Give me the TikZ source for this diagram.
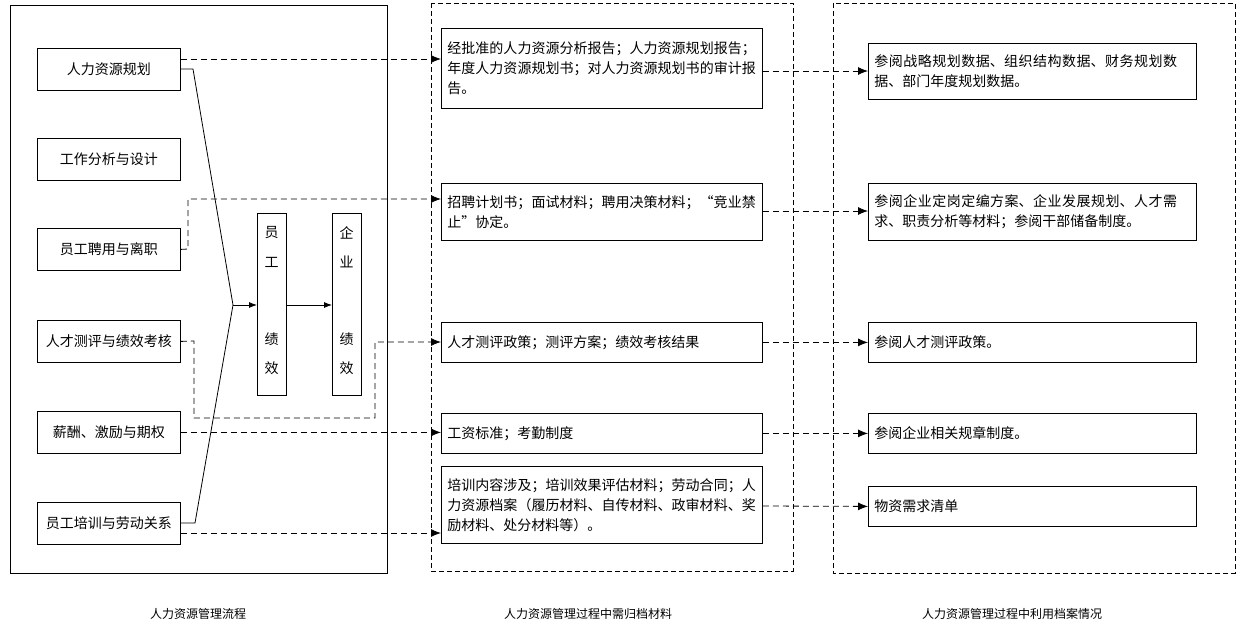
\documentclass[tikz,border=0pt]{standalone}
\usepackage{fontspec}
\setmainfont{Noto Sans CJK SC}
\XeTeXlinebreaklocale "zh"
\XeTeXlinebreakskip=0pt plus 1pt
\usetikzlibrary{arrows.meta}
\begin{document}
\begin{tikzpicture}[x=1pt,y=-1pt,
  every node/.style={font=\fontsize{14}{20}\selectfont},
  lbox/.style={draw,thick,minimum width=143,minimum height=42,anchor=north west,inner sep=0},
  tbox/.style={draw,thick,anchor=north west,align=left,text width=309,inner xsep=6,inner ysep=3},
  rbox/.style={draw,thick,anchor=north west,align=left,text width=316,inner xsep=6,inner ysep=3},
  vbox/.style={draw,thick,anchor=north west,minimum width=29,minimum height=182,inner sep=0},
  da/.style={thick,dashed,dash pattern=on 6pt off 4pt,-{Latex[length=10pt,width=8pt]}},
  sa/.style={thick,-{Latex[length=8pt,width=6pt]}},
  captxt/.style={font=\fontsize{12}{14}\selectfont}]
\useasboundingbox (0,0) rectangle (1236,638);
\draw[thick] (10,5) rectangle (387,573);
\draw[dashed,dash pattern=on 5pt off 3pt] (431,3) rectangle (793,571);
\draw[dashed,dash pattern=on 5pt off 3pt] (833,3) rectangle (1235,573);
\node[lbox] (l1) at (37,48) {人力资源规划};
\node[lbox] (l2) at (37,138) {工作分析与设计};
\node[lbox] (l3) at (37,228) {员工聘用与离职};
\node[lbox] (l4) at (37,320) {人才测评与绩效考核};
\node[lbox] (l5) at (37,411) {薪酬、激励与期权};
\node[lbox] (l6) at (37,502) {员工培训与劳动关系};
\node[vbox] (e) at (257,213) {};
\node[vbox] (q) at (332,213) {};
\node at (271.5,233) {员}; \node at (271.5,262) {工};
\node at (271.5,339) {绩}; \node at (271.5,368) {效};
\node at (346.5,233) {企}; \node at (346.5,262) {业};
\node at (346.5,339) {绩}; \node at (346.5,368) {效};
\node[tbox,minimum height=80] (m1) at (441,28) {经批准的人力资源分析报告；人力资源规划报告；年度人力资源规划书；对人力资源规划书的审计报告。};
\node[tbox,minimum height=57] (m2) at (441,183) {招聘计划书；面试材料；聘用决策材料；“竞业禁止”协定。};
\node[tbox,minimum height=40] (m3) at (441,322) {人才测评政策；测评方案；绩效考核结果};
\node[tbox,minimum height=40] (m4) at (441,413) {工资标准；考勤制度};
\node[tbox,minimum height=77] (m5) at (441,466) {培训内容涉及；培训效果评估材料；劳动合同；人力资源档案（履历材料、自传材料、政审材料、奖励材料、处分材料等）。};
\node[rbox,minimum height=56] (r1) at (868,43) {参阅战略规划数据、组织结构数据、财务规划数据、部门年度规划数据。};
\node[rbox,minimum height=57] (r2) at (868,183) {参阅企业定岗定编方案、企业发展规划、人才需求、职责分析等材料；参阅干部储备制度。};
\node[rbox,minimum height=40] (r3) at (868,322) {参阅人才测评政策。};
\node[rbox,minimum height=40] (r4) at (868,413) {参阅企业相关规章制度。};
\node[rbox,minimum height=40] (r5) at (868,486) {物资需求清单};
\coordinate (j) at (233,305);
\draw[thick] (l1.east |- 0,69) -- (193,69) -- (j);
\draw[thick] (l6.east |- 0,523) -- (195,523) -- (j);
\draw[sa] (j) -- (e.west |- j);
\draw[sa] (e.east |- j) -- (q.west |- j);
\draw[da] (l1.east |- 0,59) -- (m1.west |- 0,59);
\draw[da] (l3.east) -- (188,249) -- (188,199) -- (m2.west |- 0,199);
\draw[da] (l4.east) -- (194,341) -- (194,418) -- (375,418) -- (375,342) -- (m3.west |- 0,342);
\draw[da] (l5.east) -- (m4.west |- l5.east);
\draw[da] (l6.east |- 0,533) -- (m5.west |- 0,533);
\draw[da] (m1.east |- 0,71) -- (r1.west |- 0,71);
\draw[da] (m2.east |- 0,211) -- (r2.west |- 0,211);
\draw[da] (m3.east) -- (r3.west);
\draw[da] (m4.east) -- (r4.west);
\draw[da] (m5.east |- 0,506) -- (r5.west);
\node[captxt] (c1) at (198,614) {人力资源管理流程};
\node[captxt] (c2) at (588,614) {人力资源管理过程中需归档材料};
\node[captxt] (c3) at (1012,614) {人力资源管理过程中利用档案情况};
\end{tikzpicture}
\end{document}
